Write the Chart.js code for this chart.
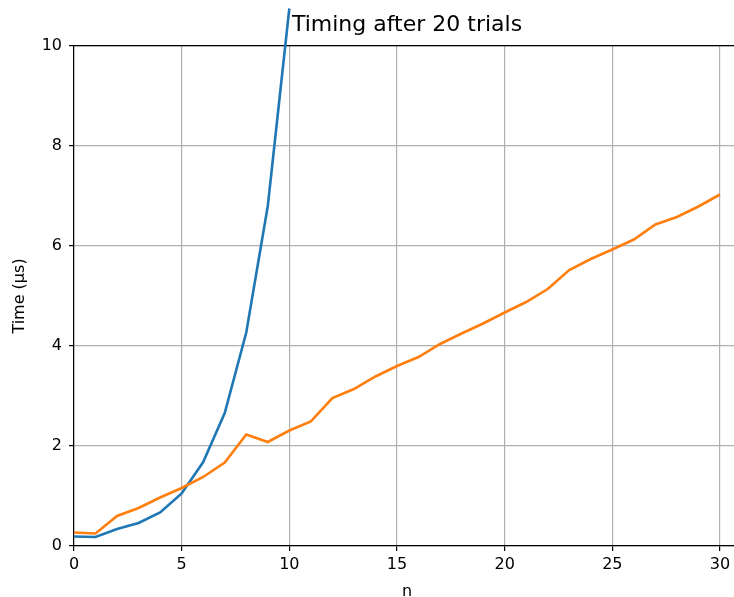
<!DOCTYPE html>
<html>
<head>
<meta charset="utf-8">
<script src="https://cdn.jsdelivr.net/npm/chart.js@4/dist/chart.umd.min.js"></script>
<style>
  html, body { margin: 0; padding: 0; overflow: hidden; background: #fff; }
  #wrap { width: 750px; height: 597px; }
</style>
</head>
<body>
<div id="wrap"><canvas id="timing-chart" width="750" height="597"></canvas></div>
<script>
const nValues = [0, 1, 2, 3, 4, 5, 6, 7, 8, 9, 10, 11, 12, 13, 14, 15, 16, 17, 18, 19, 20,
                 21, 22, 23, 24, 25, 26, 27, 28, 29, 30];
// blue series only runs to n = 10
const blueTimes = [0.19, 0.18, 0.34, 0.46, 0.67, 1.05, 1.68, 2.66, 4.27, 6.8, 10.75];
const orangeTimes = [0.27, 0.25, 0.6, 0.76, 0.97, 1.16, 1.38, 1.67, 2.23, 2.08, 2.31,
                     2.49, 2.96, 3.14, 3.39, 3.6, 3.78, 4.04, 4.25, 4.45, 4.67,
                     4.88, 5.14, 5.52, 5.74, 5.93, 6.13, 6.43, 6.58, 6.79, 7.03];
const xTicks = [0, 5, 10, 15, 20, 25, 30];
const yTicks = [0, 2, 4, 6, 8, 10];

Chart.defaults.font.family = "'DejaVu Sans', sans-serif";
Chart.defaults.color = '#000';

const toPoints = ys => ys.map((y, i) => ({ x: nValues[i], y: y }));

const ctx = document.getElementById('timing-chart').getContext('2d');
new Chart(ctx, {
    type: 'line',
    data: {
        datasets: [{
            label: 'orange',
            data: toPoints(orangeTimes),
            borderColor: '#ff7f0e',
            borderWidth: 2.6,
            pointRadius: 0,
            tension: 0,
            clip: false,
            order: 0,
        }, {
            label: 'blue',
            data: toPoints(blueTimes),
            borderColor: '#1f77b4',
            borderWidth: 2.6,
            pointRadius: 0,
            tension: 0,
            clip: false,
            order: 1,
        }]
    },
    options: {
        responsive: false,
        animation: false,
        layout: { padding: { top: 0, right: 10, bottom: 0, left: 0 } },
        plugins: {
            legend: { display: false },
            tooltip: { enabled: false },
        },
        scales: {
            x: {
                type: 'linear',
                position: 'bottom',
                min: 0,
                max: 30.93,
                afterBuildTicks: scale => { scale.ticks = xTicks.map(v => ({ value: v })); },
                afterFit: scale => { scale.height = 51; },
                ticks: { font: { size: 16 }, padding: 4, maxRotation: 0 },
                grid: { color: '#b0b0b0', lineWidth: 1.2, tickColor: '#000', tickLength: 5 },
                border: { color: '#000', width: 1.2 },
                title: { display: true, text: 'n', font: { size: 16 }, padding: { top: 0, bottom: -4 } },
            },
            x2: {
                type: 'linear',
                position: 'top',
                min: 0,
                max: 30.93,
                afterFit: scale => { scale.height = 46; },
                ticks: { display: false },
                grid: { display: false },
                border: { display: true, color: '#000', width: 1.2 },
                title: { display: true, text: 'Timing after 20 trials', font: { size: 22 }, padding: { top: 12, bottom: 0 } },
            },
            y: {
                type: 'linear',
                min: 0,
                max: 10,
                afterBuildTicks: scale => { scale.ticks = yTicks.map(v => ({ value: v })); },
                afterFit: scale => { scale.width = 74; },
                ticks: { font: { size: 16 }, padding: 7 },
                grid: { color: '#b0b0b0', lineWidth: 1.2, tickColor: '#000', tickLength: 5 },
                border: { color: '#000', width: 1.2 },
                title: { display: true, text: 'Time (\u03bcs)', font: { size: 16 }, padding: { top: 10, bottom: 0 } },
            }
        }
    }
});
</script>
</body>
</html>
